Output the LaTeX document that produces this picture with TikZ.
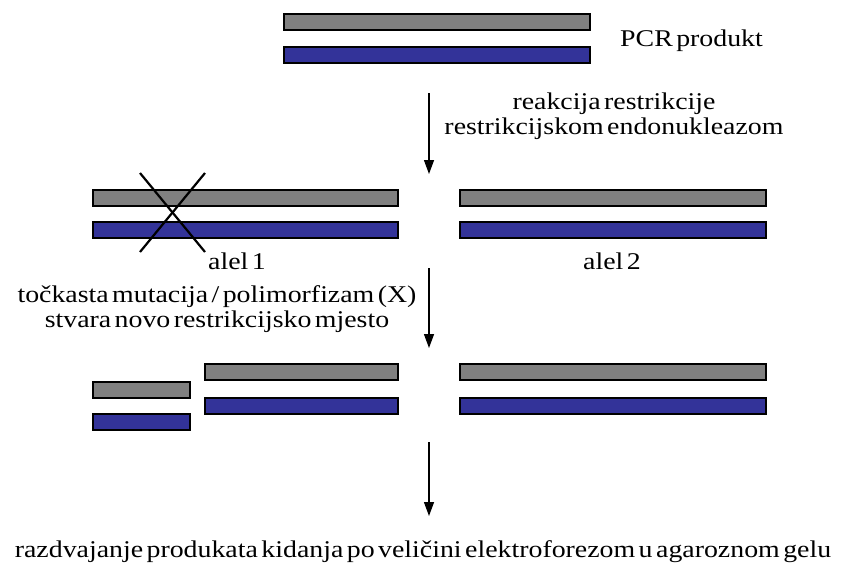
\documentclass[tikz,border=0pt]{standalone}
\usepackage{fontspec}
\setmainfont[FakeStretch=1.16,WordSpace=0.5]{Liberation Serif}
\usetikzlibrary{arrows.meta}
\definecolor{bargray}{HTML}{808080}
\definecolor{barblue}{HTML}{333399}
\begin{document}
\begin{tikzpicture}[x=1pt,y=-1pt,
  bar/.style={draw=black,line width=1.5pt,inner sep=0pt,outer sep=0pt,anchor=north west,minimum height=16pt},
  gbar/.style={bar,fill=bargray},
  bbar/.style={bar,fill=barblue},
  lbl/.style={inner sep=0pt,font=\fontsize{24}{24.5}\selectfont,align=center},
  arr/.style={line width=1.3pt,-{Triangle[length=14pt,width=10pt]}},
  crossline/.style={line width=2.2pt}]
\useasboundingbox (0,0) rectangle (841,565);
% top PCR product
\node[gbar,minimum width=306pt] (g0) at (284,14) {};
\node[bbar,minimum width=306pt] (b0) at (284,47) {};
\node[lbl,anchor=base west] (pcr) at (620,46) {PCR produkt};
% arrow 1
\coordinate (a1s) at (429,93);
\coordinate (a1e) at (429,174);
\draw[arr] (a1s) -- (a1e);
\node[lbl] (t1) at (614,116) {reakcija restrikcije\\restrikcijskom endonukleazom};
% row 2
\node[gbar,minimum width=305pt] (g1) at (93,190) {};
\node[bbar,minimum width=305pt] (b1) at (93,222) {};
\node[gbar,minimum width=306pt] (g2) at (460,190) {};
\node[bbar,minimum width=306pt] (b2) at (460,222) {};
\coordinate (x1) at (140,173);
\coordinate (x2) at (205,252);
\coordinate (x3) at (205,173);
\coordinate (x4) at (140,252);
\draw[crossline] (x1) -- (x2);
\draw[crossline] (x3) -- (x4);
\node[lbl,anchor=base] (al1) at (237,269) {alel 1};
\node[lbl,anchor=base] (al2) at (612,269) {alel 2};
\node[lbl] (t2) at (217,309) {točkasta mutacija / polimorfizam (X)\\stvara novo restrikcijsko mjesto};
% arrow 2
\coordinate (a2s) at (429,268);
\coordinate (a2e) at (429,348);
\draw[arr] (a2s) -- (a2e);
% row 3
\node[gbar,minimum width=97pt] (g3) at (93,382) {};
\node[bbar,minimum width=97pt] (b3) at (93,414) {};
\node[gbar,minimum width=193pt] (g4) at (205,364) {};
\node[bbar,minimum width=193pt] (b4) at (205,398) {};
\node[gbar,minimum width=306pt] (g5) at (460,364) {};
\node[bbar,minimum width=306pt] (b5) at (460,398) {};
% arrow 3
\coordinate (a3s) at (429,442);
\coordinate (a3e) at (429,516);
\draw[arr] (a3s) -- (a3e);
\node[lbl,anchor=base] (t3) at (423,557) {razdvajanje produkata kidanja po veličini elektroforezom u agaroznom gelu};
\end{tikzpicture}
\end{document}
